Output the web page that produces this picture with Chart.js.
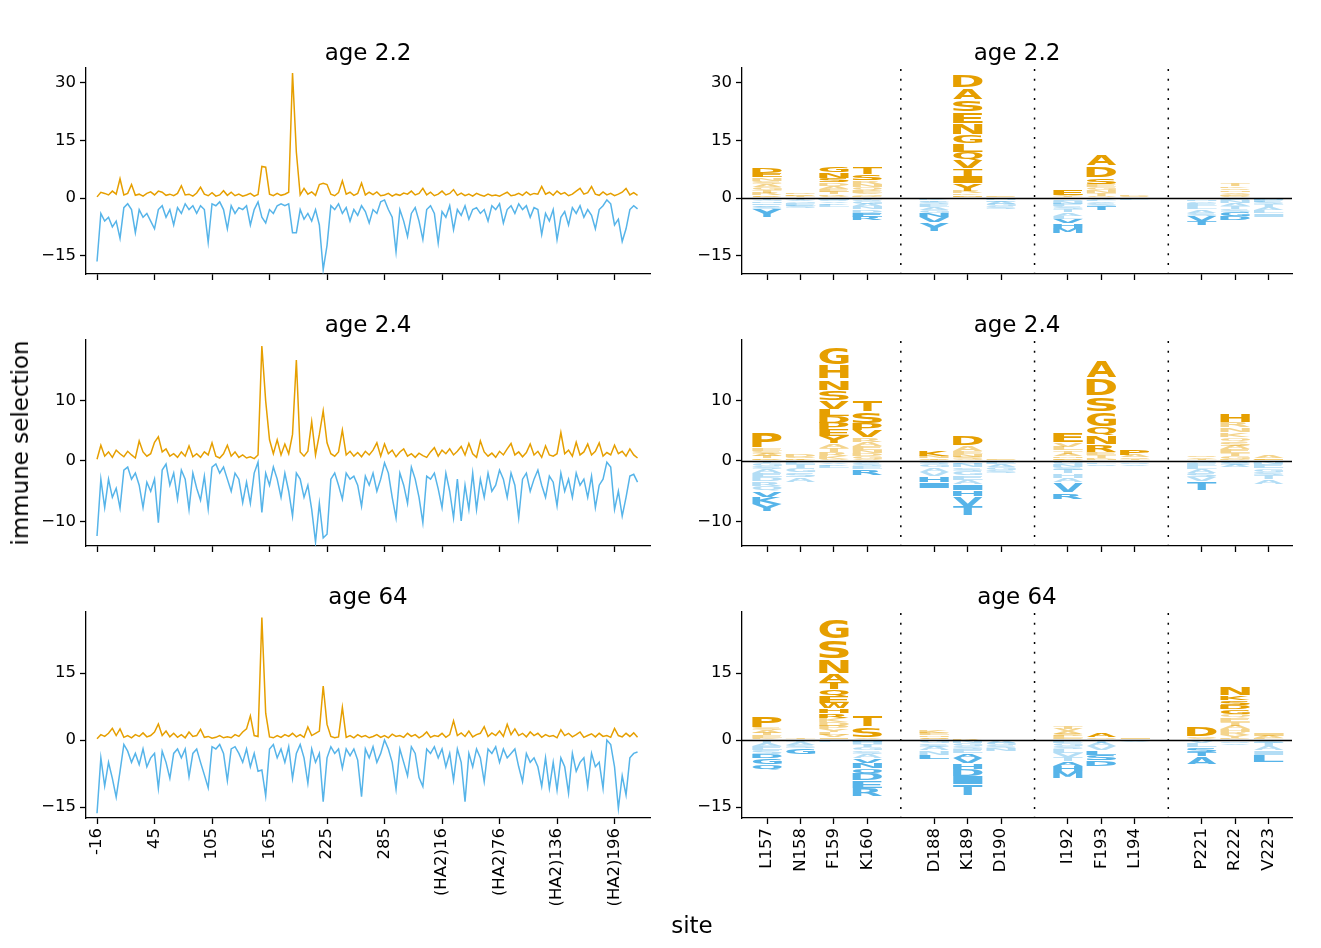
<!DOCTYPE html>
<html>
<head>
<meta charset="utf-8">
<script src="https://cdn.jsdelivr.net/npm/chart.js@4.4.1/dist/chart.umd.min.js"></script>
<style>
  body { margin: 0; background: #fff; }
  #fig { position: relative; width: 1321px; height: 948px; font-family: "DejaVu Sans", sans-serif; }
  #fig canvas { position: absolute; left: 0; top: 0; }
  .supLabel { position: absolute; font-size: 23px; color: #000; white-space: nowrap; transform: translate(-50%, -50%); }
  #ylab { left: 20px; top: 443px; transform: translate(-50%, -50%) rotate(-90deg); }
  #xlab { left: 692px; top: 925px; }
</style>
</head>
<body>
<div id="fig">
  <canvas id="line22" width="1321" height="948"></canvas>
  <canvas id="line24" width="1321" height="948"></canvas>
  <canvas id="line64" width="1321" height="948"></canvas>
  <canvas id="logo22" width="1321" height="948"></canvas>
  <canvas id="logo24" width="1321" height="948"></canvas>
  <canvas id="logo64" width="1321" height="948"></canvas>
  <div class="supLabel" id="ylab">immune selection</div>
  <div class="supLabel" id="xlab">site</div>
</div>
<script>
const ORANGE = '#E69F00';
const BLUE = '#56B4E9';

// site axis of the line panels (index into the HA sequence)
const siteTickIdx = [0, 60, 120, 180, 240, 300, 360, 420, 480, 540];
const siteTickLabels = ['-16', '45', '105', '165', '225', '285', '(HA2)16', '(HA2)76', '(HA2)136', '(HA2)196'];
const sampleStep = 4; // every 4th site

// age 2.2
const pos22 = [
  0.3, 1.5, 1.2, 0.8, 1.8, 1.0, 5.0, 0.8, 1.2, 3.5,
  0.7, 1.0, 0.5, 1.2, 1.6, 0.8, 1.8, 1.5, 0.7, 1.0,
  0.6, 1.2, 3.2, 0.8, 1.0, 0.5, 1.3, 2.8, 1.0, 0.6,
  1.4, 0.5, 0.8, 1.9, 0.7, 1.5, 0.6, 1.0, 0.5, 0.8,
  1.2, 0.5, 0.9, 8.2, 8.0, 1.0, 0.6, 1.2, 0.7, 1.0,
  1.5, 32.5, 11.9, 0.8, 2.5, 1.0, 1.6, 0.7, 3.5, 3.8,
  3.5, 1.0, 0.6, 1.4, 4.5, 1.0, 1.5, 0.7, 1.2, 3.9,
  0.8, 1.5, 0.9, 1.6, 0.6, 0.8, 1.2, 0.5, 1.0, 0.7,
  1.3, 1.0, 1.8, 0.8, 1.2, 2.5, 0.8, 1.5, 0.6, 1.0,
  1.8, 0.8, 1.2, 2.2, 0.7, 1.3, 0.6, 1.0, 0.5, 1.2,
  0.8, 0.5, 1.0, 0.6, 0.8, 0.5, 1.0, 1.5, 0.6, 0.8,
  1.2, 0.7, 1.6, 0.8, 1.2, 1.0, 3.0, 1.0, 1.5, 0.7,
  1.8, 1.0, 1.4, 0.6, 1.0, 1.8, 2.5, 1.0, 1.4, 3.0,
  1.0, 0.7, 1.6, 0.8, 1.2, 0.6, 1.0, 1.5, 2.5, 0.8,
  1.4, 0.7
];
const neg22 = [
  -16.5, -4, -6, -5, -7.5, -6, -10.5, -2.5, -1.5, -3,
  -9, -3, -5, -4, -6, -8, -3, -2, -5, -3,
  -7, -2.5, -4, -1.5, -3, -2, -4, -2, -3, -11.5,
  -1.5, -2, -1, -3, -8, -2, -4, -2.5, -3, -2,
  -7, -3, -1, -5, -6.5, -3, -4, -2, -1.5, -2,
  -1.5, -9, -9, -3, -5.5, -4, -6, -3, -7, -18.6,
  -12.3, -2, -3, -1.5, -4, -2.5, -6, -3, -4.5, -2,
  -3.5, -6.5, -3, -4, -1, -0.5, -3, -5, -14, -3,
  -6, -10, -4, -2.5, -6, -10.8, -3, -2, -4, -11.7,
  -3.5, -5, -2, -8.2, -3, -4.5, -2, -5.5, -3, -2.5,
  -4, -3, -6, -2, -3, -1.5, -6.5, -3, -2, -4,
  -1.5, -3, -2, -5, -2.5, -3, -9.5, -4, -6, -3,
  -10.8, -5, -3.5, -7, -2.5, -4, -2, -5, -3, -4.5,
  -8, -3, -2, -0.5, -1.5, -7, -5.5, -11.3, -8, -3,
  -2, -2.8
];

// age 2.4
const pos24 = [
  0.3, 2.6, 0.8, 1.5, 0.6, 1.8, 1.2, 0.7, 1.6, 1.0,
  0.5, 3.3, 1.5, 0.8, 1.2, 3.1, 4.0, 1.5, 2.0, 0.8,
  1.2, 0.6, 1.5, 0.8, 2.5, 0.7, 1.2, 0.6, 1.5, 1.0,
  3.0, 0.8, 0.5, 1.2, 2.6, 0.8, 1.5, 0.6, 1.0, 0.5,
  0.7, 0.4, 1.0, 19.0, 9.9, 3.5, 1.2, 3.5, 1.0, 2.8,
  1.2, 4.4, 16.7, 1.5, 0.8, 1.6, 6.5, 1.0, 4.4, 8.3,
  3.0, 1.2, 0.8, 1.5, 5.1, 1.0, 1.6, 0.8, 1.4, 0.7,
  1.6, 1.0, 1.8, 3.0, 0.8, 2.8, 1.2, 1.8, 0.7, 1.5,
  2.0, 0.8, 1.2, 0.6, 1.3, 0.9, 0.6, 1.5, 2.2, 0.8,
  1.8, 1.2, 2.0, 1.0, 1.6, 2.4, 1.0, 2.9, 1.2, 0.6,
  3.3, 1.5, 0.8, 1.3, 0.6, 1.6, 1.0, 2.0, 2.9, 1.0,
  1.5, 0.7, 1.4, 2.8, 1.0, 1.6, 0.6, 2.5, 1.0, 0.8,
  1.2, 4.7, 1.2, 1.8, 0.8, 3.1, 1.0, 1.5, 2.8, 1.0,
  1.6, 3.0, 0.8, 1.4, 1.0, 2.6, 1.2, 1.6, 0.8, 2.0,
  1.0, 0.5
];
const neg24 = [
  -12.4, -3, -7.7, -3, -6, -4.5, -7.8, -1.5, -1, -3,
  -2, -4, -7.7, -3.5, -5, -3, -10.2, -1.5, -0.5, -4,
  -2, -6.3, -1.5, -3, -8, -2, -4.5, -6.5, -2.5, -7.9,
  -1, -0.5, -2, -1, -3, -5, -2, -3, -6.9, -3.5,
  -7, -2, -0.2, -8.5, -2, -4, -1, -3, -6, -2,
  -5, -9.1, -2, -3, -6, -4, -8, -13.4, -7, -12.7,
  -12.1, -3, -2, -4, -6.3, -2, -3, -2.5, -4, -7.5,
  -2.5, -4, -2, -5, -3, -0.3, -2, -6, -9.4, -2,
  -4, -7, -1, -3, -6, -10.2, -2.5, -3, -2, -4.6,
  -7.7, -2, -5, -9.4, -3, -9.9, -4, -8, -2, -8,
  -3, -6, -2, -5, -4, -1.5, -3, -6, -2, -4,
  -9.4, -3, -2, -5, -3, -1.5, -4, -6, -2.5, -3.5,
  -7.4, -2, -5, -3, -6, -2, -4, -3, -6, -2.5,
  -7.7, -4, -3, -0.2, -1, -8, -5, -9.1, -6, -2.5,
  -2.2, -3.5
];

// age 64
const pos64 = [
  0.3, 1.2, 0.8, 1.5, 2.6, 1.0, 2.5, 0.6, 1.0, 0.5,
  1.2, 0.8, 1.6, 0.7, 1.0, 1.8, 3.6, 1.0, 2.0, 0.7,
  1.5, 0.6, 1.2, 0.5, 1.8, 0.8, 1.0, 2.4, 0.6, 0.8,
  0.4, 0.6, 1.0, 0.5, 0.7, 0.5, 1.2, 0.8, 1.8, 2.5,
  5.4, 1.0, 0.8, 27.4, 6.0, 0.7, 0.5, 1.0, 0.6, 1.2,
  0.8, 1.5, 0.7, 1.2, 0.6, 2.9, 1.0, 1.5, 2.0, 12.1,
  3.5, 0.8, 0.5, 0.7, 7.3, 0.6, 1.0, 0.5, 1.2, 0.7,
  1.0, 0.5, 0.8, 1.2, 0.6, 1.0, 0.5, 1.3, 0.8, 1.0,
  0.6, 1.5, 0.8, 1.2, 0.5, 1.0, 1.8, 0.6, 1.0, 0.8,
  1.5, 0.6, 1.2, 4.3, 1.0, 1.6, 0.8, 2.0, 0.7, 1.2,
  1.5, 3.0, 0.8, 1.6, 1.0, 2.0, 0.8, 3.5, 1.2, 2.5,
  1.0, 1.5, 0.7, 1.8, 1.0, 1.5, 0.6, 1.2, 0.8, 1.0,
  0.5, 2.3, 1.0, 1.5, 0.7, 1.2, 1.8, 0.6, 1.0, 1.4,
  0.7, 1.5, 0.8, 1.0, 0.6, 2.6, 1.0, 0.7, 1.5, 0.8,
  1.6, 0.6
];
const neg64 = [
  -16.4, -4, -10.3, -5, -8.6, -12.8, -7, -1, -2.5, -5,
  -3, -5.5, -2, -6, -4, -3, -10.8, -2.5, -5, -8.6,
  -3, -2, -4, -2, -8.2, -3, -2, -5, -7.8, -10.7,
  -1.5, -2, -1, -3, -9.1, -2, -1.5, -3, -5, -2,
  -6, -3, -7, -6.7, -12.5, -2, -1, -4, -2, -5,
  -1.5, -8.6, -3, -1, -4, -9.7, -2, -5, -3, -13.8,
  -4, -1.5, -3, -2, -6.3, -2, -3.5, -2, -4.5, -12.7,
  -2, -4, -1.5, -5, -3, 0, -2, -5, -11, -2,
  -5, -8, -1.5, -3, -8.4, -10.4, -2, -3, -1.5, -4,
  -2, -6, -3, -9, -2, -5, -13.8, -3, -6, -2,
  -4, -9.3, -2, -3, -1.5, -5, -2, -4, -3, -2,
  -6, -9.3, -3, -5, -4, -6, -10.4, -4, -10.8, -5,
  -11.2, -4, -6, -11.9, -3, -7, -5, -4, -10.4, -3,
  -6, -5, -10.8, 0, -1, -6, -15.3, -8, -12.3, -4,
  -3, -2.7
];

// logo panels: sites ('' = gap with dotted separator)
const logoSites = ['L157', 'N158', 'F159', 'K160', '', 'D188', 'K189', 'D190', '', 'I192', 'F193', 'L194', '', 'P221', 'R222', 'V223'];

// letter stacks, outermost letter first, height in selection units
const up22 = [
  'D1.3 E1.0 N0.9 S0.9 A0.8 G0.8 T0.7 R0.6 Q0.4 K0.3',
  'D0.3 S0.3 K0.2 T0.2 G0.2',
  'G1.7 N1.6 S1.0 D0.9 A0.8 E0.7 T0.6 R0.5 Q0.3 K0.2',
  'T1.9 S1.7 R0.9 N0.8 Q0.8 E0.6 A0.5 G0.5 D0.4',
  '',
  'E0.1 N0.1',
  'D3.6 A3.2 S3.1 E3.0 N2.95 G2.3 L2.25 Q2.2 V2.1 T2.0 I1.9 Y1.9 R0.6 K0.5 F0.4 M0.3',
  'E0.15 N0.15',
  '',
  'E1.5 V0.3 T0.3 A0.2',
  'A3.2 D3.1 S1.7 E0.9 G0.8 N0.7 T0.6 Q0.4 R0.2',
  'P0.3 S0.2 A0.2',
  '',
  'S0.1 T0.1',
  'T0.6 K0.5 S0.5 N0.5 A0.4 G0.4 E0.3 Q0.2 D0.2',
  'A0.1 I0.1 L0.1'
];
const down22 = [
  'Y2.1 S0.6 A0.5 E0.5 N0.5 G0.4 T0.4',
  'S0.7 E0.6 G0.5 A0.5 T0.4',
  'L0.7 A0.5 V0.5 S0.4 I0.4',
  'R1.0 E1.0 D0.9 N0.8 A0.7 G0.6 S0.5 T0.4',
  '',
  'Y2.4 V1.3 N1.0 G0.9 A0.8 E0.7 S0.6 T0.5 K0.5',
  'L0.1 I0.1',
  'S0.7 G0.6 A0.6 E0.5 N0.5',
  '',
  'M1.4 H1.2 V1.0 L0.9 A0.9 T0.8 S0.8 F0.7 N0.6 E0.5 G0.4',
  'T1.3 S0.6 A0.5 L0.5 V0.4',
  'F0.2 I0.2 V0.1',
  '',
  'T1.1 V1.3 S0.9 A0.9 L0.8 E0.7 Q0.6 N0.5 G0.4',
  'D1.2 G1.0 S0.9 T0.8 A0.7 N0.7 E0.5 Q0.1',
  'I0.9 L0.8 A0.8 T0.7 S0.6 F0.6 M0.5'
];
const up24 = [
  'P2.6 E0.5 S0.5 A0.4 T0.4 Q0.2 K0.2',
  'D0.4 S0.3 K0.2 T0.2',
  'G3.0 H2.4 N1.8 S1.75 V1.5 L1.1 D1.1 P1.1 E1.1 Y1.1 A0.8 T0.7 R0.6 K0.5 Q0.35',
  'T2.0 S1.9 P1.2 V1.15 R0.8 A0.7 E0.6 N0.5 D0.5 G0.4 Q0.35',
  '',
  'K1.0 N0.4 S0.2 T0.2',
  'D1.8 A0.9 E0.5 N0.4 S0.4 G0.3',
  'E0.2 N0.1',
  '',
  'E1.6 V0.7 L0.6 T0.5 A0.4 M0.3 S0.3 F0.2',
  'A3.0 D3.0 S2.5 G2.5 Q1.5 N1.4 R1.3 E0.5 T0.4 K0.3 H0.25',
  'P1.0 A0.4 S0.3 T0.3',
  '',
  'S0.3 A0.3 T0.3',
  'H1.5 R0.9 N0.8 K0.8 Q0.7 S0.7 A0.6 E0.6 T0.5 G0.5 D0.3',
  'A0.5 I0.2 L0.2'
];
const down24 = [
  'Y1.2 K1.2 V1.0 Q0.9 R0.8 D0.7 E0.6 A0.6 S0.5 G0.5 T0.4',
  'A0.8 S0.8 G0.7 T0.6 E0.6',
  'L0.4 A0.3 V0.3 I0.2',
  'R1.0 E0.5 S0.4 A0.4',
  '',
  'I1.0 H1.0 V0.8 A0.7 G0.6 S0.5',
  'T1.6 V1.6 H1.0 I1.0 A0.7 E0.8 G0.7 S0.6 N0.6 Q0.5',
  'S0.5 G0.5 A0.5 E0.5',
  '',
  'R1.0 V1.7 A0.8 H0.7 T0.6 S0.5 N0.5 G0.5',
  'S0.3 L0.3 V0.2',
  'A0.3 S0.3 I0.2',
  '',
  'T1.4 V0.7 S0.7 A0.6 L0.5 E0.5 G0.4',
  'A0.4 S0.4 G0.3',
  'A0.7 T0.7 S0.6 G0.6 E0.6 N0.6'
];
const up64 = [
  'P2.8 S0.7 A0.6 T0.5 E0.5 K0.3 Q0.2',
  'T0.3 S0.2',
  'G4.8 S4.3 N3.4 A1.9 T1.5 Q1.5 E1.5 W1.3 H1.1 R1.0 K0.9 D0.8 P0.8 Y0.7 L0.6 V0.5 I0.4 M0.2',
  'T2.8 S2.5 A0.3 N0.2',
  '',
  'K0.6 E0.5 N0.4 S0.4 G0.3',
  'R0.2 Q0.1',
  'E0.1 N0.1',
  '',
  'T0.6 V0.5 A0.5 S0.5 L0.5 E0.4',
  'A1.0 S0.3 L0.2',
  'I0.3 V0.2',
  '',
  'D2.2 S0.4 A0.4',
  'N2.0 K1.1 S1.0 D1.0 G1.0 Q0.9 E0.9 T0.8 A0.8 H0.7 R0.6 Y0.6 P0.5',
  'I0.6 A0.5 L0.4'
];
const down64 = [
  'Q1.3 G1.2 D1.1 S0.9 E0.8 A0.7 T0.7',
  'G1.4 S0.7 A0.6 T0.5',
  'L0.3 V0.2',
  'R1.9 E1.7 D1.5 Q1.3 N1.2 V1.0 A0.9 S0.8 G0.8 T0.7 H0.5 I0.4',
  '',
  'L1.0 N0.9 A0.8 S0.8 G0.8',
  'T2.5 I1.8 D1.6 H1.4 V1.2 A1.0 E0.9 S0.8 G0.7 N0.6',
  'N0.7 S0.7 G0.6 A0.6',
  '',
  'M1.5 H1.3 A1.1 T0.9 V0.9 L0.8 S0.8 G0.7 E0.6',
  'D1.4 S1.2 L1.0 V0.9 A0.8 T0.7',
  'A0.3 S0.2',
  '',
  'A1.7 T1.0 S1.0 L0.9 V0.8',
  'A0.4 S0.4 G0.3',
  'L1.7 I0.9 A0.9 T0.8 S0.7'
];

// panel boxes in page pixels
const rows = [
  { top: 68, bottom: 274 },
  { top: 340, bottom: 546 },
  { top: 612, bottom: 818 }
];
const leftBox = { left: 86, right: 650 };
const rightBox = { left: 742, right: 1292 };
const Y_W = 70, X_H = 100;

const tickFont = { family: 'DejaVu Sans', size: 16.5 };
const gridStyle = { drawOnChartArea: false, offset: false, tickLength: 6, tickColor: '#000', tickWidth: 1.3 };
const borderStyle = { color: '#000', width: 1.3 };

const panelTitle = {
  id: 'panelTitle',
  afterDraw(chart, args, opts) {
    const { ctx, chartArea } = chart;
    ctx.save();
    ctx.font = '23px "DejaVu Sans"';
    ctx.fillStyle = '#000';
    ctx.textAlign = 'center';
    ctx.textBaseline = 'alphabetic';
    ctx.fillText(opts.text, (chartArea.left + chartArea.right) / 2, chartArea.top - 8);
    ctx.restore();
  }
};
Chart.register(panelTitle);

let padFor = (box, row) => ({
  left: box.left - Y_W,
  right: 1321 - box.right,
  top: row.top,
  bottom: 948 - row.bottom - X_H
});

let yAxis = (min, max, ticks) => ({
  type: 'linear', min, max,
  afterFit: s => { s.width = Y_W; },
  afterBuildTicks: s => { s.ticks = ticks.map(v => ({ value: v })); },
  grid: gridStyle,
  border: borderStyle,
  ticks: { font: tickFont, color: '#000', padding: 4, callback: v => String(v).replace('-', '\u2212') }
});

let xAxis = (min, max, tickIdx, label) => ({
  type: 'linear', min, max, offset: false,
  afterFit: s => { s.height = X_H; },
  afterBuildTicks: s => { s.ticks = tickIdx.map(v => ({ value: v })); },
  grid: gridStyle,
  border: borderStyle,
  ticks: { autoSkip: false, minRotation: 90, maxRotation: 90, font: tickFont, color: '#000', padding: 4, callback: label }
});

const yRanges = [
  { min: -19.75, max: 33.8, ticks: [-15, 0, 15, 30] },
  { min: -14.05, max: 20.0, ticks: [-10, 0, 10] },
  { min: -17.46, max: 28.66, ticks: [-15, 0, 15] }
];

let toXY = values => values.map((v, i) => ({ x: i * sampleStep, y: v }));

let drawLineChart = (id, title, pos, neg, r) => {
  const showX = r === 2;
  new Chart(document.getElementById(id), {
    type: 'line',
    data: {
      datasets: [
        { data: toXY(pos), borderColor: ORANGE, borderWidth: 1.5, pointRadius: 0, tension: 0 },
        { data: toXY(neg), borderColor: BLUE, borderWidth: 1.5, pointRadius: 0, tension: 0 }
      ]
    },
    options: {
      responsive: false, animation: false, events: [],
      layout: { padding: padFor(leftBox, rows[r]) },
      plugins: { legend: { display: false }, tooltip: { enabled: false }, panelTitle: { text: title } },
      scales: {
        x: xAxis(-11.5, 577, siteTickIdx, (v, i) => showX ? siteTickLabels[i] : ''),
        y: yAxis(yRanges[r].min, yRanges[r].max, yRanges[r].ticks)
      }
    }
  });
};

// logo letters: glyph stretched to fill each stacked bar
let drawLetter = (ctx, ch, x0, y0, w, h, color, alpha) => {
  if (w <= 0 || h <= 0.05) return;
  ctx.font = 'bold 100px "DejaVu Sans"';
  const m = ctx.measureText(ch);
  const gw = m.actualBoundingBoxLeft + m.actualBoundingBoxRight;
  const gh = m.actualBoundingBoxAscent + m.actualBoundingBoxDescent;
  ctx.save();
  ctx.translate(x0, y0);
  ctx.scale(w / gw, h / gh);
  ctx.globalAlpha = alpha;
  ctx.fillStyle = color;
  ctx.textAlign = 'left';
  ctx.textBaseline = 'alphabetic';
  ctx.fillText(ch, m.actualBoundingBoxLeft, m.actualBoundingBoxAscent);
  ctx.restore();
};

const logoLetters = {
  id: 'logoLetters',
  afterDatasetsDraw(chart) {
    const { ctx, chartArea: area, scales } = chart;
    ctx.save();
    ctx.beginPath();
    ctx.rect(area.left, area.top, area.right - area.left, area.bottom - area.top);
    ctx.clip();
    chart.data.datasets.forEach((ds, di) => {
      chart.getDatasetMeta(di).data.forEach((bar, i) => {
        const p = bar.getProps(['x', 'y', 'base', 'width'], true);
        const top = Math.min(p.y, p.base);
        const h = Math.abs(p.y - p.base);
        const vpad = h * 0.06;
        // weak letters come out faded in the original
        const alpha = Math.abs(ds.data[i].y) < 1.0 ? 0.45 : 1;
        drawLetter(ctx, ds.data[i].letter, p.x - p.width / 2, top + vpad, p.width, h - 2 * vpad, ds.letterColor, alpha);
      });
    });
    // zero line
    const y0 = Math.round(scales.y.getPixelForValue(0)) + 0.5;
    ctx.strokeStyle = '#000';
    ctx.lineWidth = 1.4;
    ctx.beginPath();
    ctx.moveTo(area.left, y0);
    ctx.lineTo(area.right, y0);
    ctx.stroke();
    // dotted separators at the gaps
    ctx.setLineDash([2, 7.7]);
    ctx.lineWidth = 1.5;
    logoSites.forEach((s, i) => {
      if (s !== '') return;
      const x = scales.x.getPixelForValue(i);
      ctx.beginPath();
      ctx.moveTo(x, area.top + 1);
      ctx.lineTo(x, area.bottom);
      ctx.stroke();
    });
    ctx.restore();
  }
};

let parseStack = s => s.trim() === '' ? [] : s.trim().split(/\s+/).map(t => ({ letter: t[0], h: parseFloat(t.slice(1)) }));

let logoDatasets = (up, down) => {
  const sets = [];
  [[up, 1, ORANGE], [down, -1, BLUE]].forEach(([cols, sign, color]) => {
    const stacks = cols.map(c => parseStack(c).reverse()); // innermost first
    const depth = Math.max(...stacks.map(st => st.length));
    for (let k = 0; k < depth; k++) {
      const data = [];
      stacks.forEach((st, i) => {
        if (st[k]) data.push({ x: i, y: sign * st[k].h, letter: st[k].letter });
      });
      sets.push({
        data, letterColor: color,
        backgroundColor: 'rgba(0,0,0,0)', borderWidth: 0,
        barPercentage: 0.88, categoryPercentage: 1
      });
    }
  });
  return sets;
};

const logoTickIdx = logoSites.map((s, i) => s === '' ? null : i).filter(v => v !== null);

let drawLogoChart = (id, title, up, down, r) => {
  const showX = r === 2;
  const x = xAxis(-0.75, 15.7, logoTickIdx, v => showX ? logoSites[v] : '');
  x.stacked = true;
  const y = yAxis(yRanges[r].min, yRanges[r].max, yRanges[r].ticks);
  y.stacked = true;
  new Chart(document.getElementById(id), {
    type: 'bar',
    data: { datasets: logoDatasets(up, down) },
    options: {
      responsive: false, animation: false, events: [],
      layout: { padding: padFor(rightBox, rows[r]) },
      plugins: { legend: { display: false }, tooltip: { enabled: false }, panelTitle: { text: title } },
      scales: { x, y }
    },
    plugins: [logoLetters]
  });
};

drawLineChart('line22', 'age 2.2', pos22, neg22, 0);
drawLineChart('line24', 'age 2.4', pos24, neg24, 1);
drawLineChart('line64', 'age 64', pos64, neg64, 2);
drawLogoChart('logo22', 'age 2.2', up22, down22, 0);
drawLogoChart('logo24', 'age 2.4', up24, down24, 1);
drawLogoChart('logo64', 'age 64', up64, down64, 2);
</script>
</body>
</html>
